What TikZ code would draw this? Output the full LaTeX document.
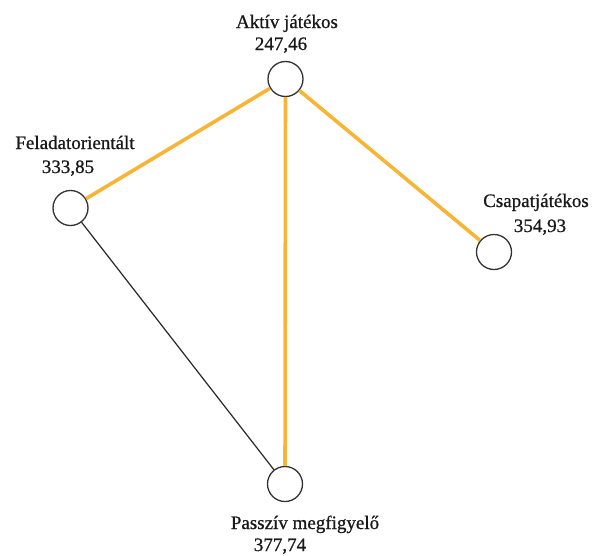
\documentclass[tikz,border=0pt]{standalone}
\usepackage{fontspec}
\setmainfont{Liberation Serif}
\newfontfamily\lblfont{Liberation Serif}[FakeBold=0.8]
\definecolor{hiorange}{RGB}{248,180,52}
\begin{document}
\begin{tikzpicture}[x=1pt,y=-1pt,
  vert/.style={circle,draw=black!80,line width=1.3pt,minimum size=35pt,inner sep=0pt,fill=white},
  lbl/.style={anchor=base,font=\lblfont\fontsize{19}{22}\selectfont,inner sep=0pt,text=black!90},
  hi/.style={draw=hiorange,line width=3.6pt},
  lo/.style={draw=black!85,line width=1.2pt}]
\useasboundingbox (0,0) rectangle (592,555);
\node[vert] (akt) at (285.5,79) {};
\node[vert] (fel) at (70.5,208) {};
\node[vert] (csa) at (494,252) {};
\node[vert] (pas) at (285,484) {};
\draw[hi] (akt) -- (fel);
\draw[hi] (akt) -- (csa);
\draw[hi] (akt) -- (pas);
\draw[lo] (fel) -- (pas);
\node[lbl] (akt1) at (287,28) {Aktív játékos};
\node[lbl] (akt2) at (281,50) {247,46};
\node[lbl] (fel1) at (75,149) {Feladatorientált};
\node[lbl] (fel2) at (68,173) {333,85};
\node[lbl] (csa1) at (536,207) {Csapatjátékos};
\node[lbl] (csa2) at (540,232) {354,93};
\node[lbl] (pas1) at (305,529) {Passzív megfigyelő};
\node[lbl] (pas2) at (280,551) {377,74};
\end{tikzpicture}
\end{document}
